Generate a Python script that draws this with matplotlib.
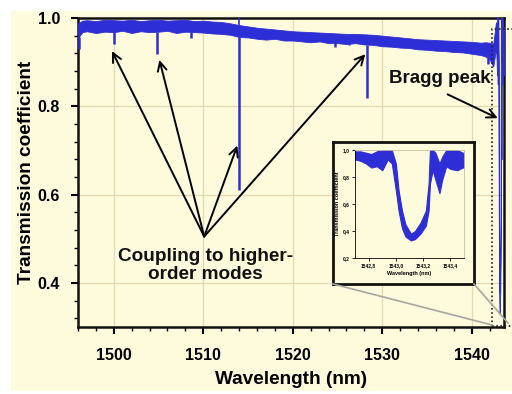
import numpy as np
import matplotlib
matplotlib.use('Agg')
import matplotlib.pyplot as plt
from matplotlib.patches import Rectangle
from matplotlib.lines import Line2D
from matplotlib.ticker import AutoMinorLocator, MultipleLocator, FuncFormatter

plt.rcParams['font.family'] = ['Liberation Sans', 'DejaVu Sans']

# ---- main spectrum: noise band envelope (nm, lower, upper) ----
band_wl = [1496.0, 1496.5, 1497.0, 1498.0, 1499.0, 1500.0, 1501.0, 1502.0, 1503.0, 1504.0,
           1505.0, 1506.0, 1507.0, 1508.0, 1509.0, 1510.0, 1511.0, 1512.0, 1513.0, 1514.0,
           1515.0, 1516.0, 1517.0, 1518.0, 1519.0, 1520.0, 1521.0, 1522.0, 1523.0, 1524.0,
           1525.0, 1526.0, 1527.0, 1528.0, 1529.0, 1530.0, 1531.0, 1532.0, 1533.0, 1534.0,
           1535.0, 1536.0, 1537.0, 1538.0, 1539.0, 1540.0, 1541.0, 1541.5, 1542.0, 1542.4]
band_lo = [0.955, 0.968, 0.970, 0.966, 0.969, 0.968, 0.971, 0.966, 0.970, 0.968,
           0.969, 0.971, 0.966, 0.969, 0.968, 0.967, 0.965, 0.964, 0.962, 0.957,
           0.956, 0.953, 0.951, 0.953, 0.949, 0.949, 0.947, 0.945, 0.947, 0.943,
           0.943, 0.941, 0.943, 0.940, 0.939, 0.936, 0.935, 0.933, 0.932, 0.929,
           0.928, 0.926, 0.925, 0.923, 0.922, 0.919, 0.916, 0.913, 0.906, 0.890]
band_hi = [0.988, 0.994, 0.995, 0.993, 0.996, 0.995, 0.994, 0.996, 0.993, 0.995,
           0.996, 0.994, 0.995, 0.996, 0.993, 0.994, 0.992, 0.991, 0.988, 0.984,
           0.981, 0.978, 0.976, 0.974, 0.972, 0.970, 0.969, 0.968, 0.967, 0.966,
           0.965, 0.964, 0.964, 0.963, 0.962, 0.960, 0.958, 0.956, 0.954, 0.952,
           0.951, 0.950, 0.949, 0.948, 0.947, 0.946, 0.944, 0.945, 0.944, 0.942]

# sharp absorption dips (coupling to higher-order modes etc.)
dip_wl = [1496.1, 1500.0, 1504.8, 1508.6, 1514.0, 1524.7, 1526.3, 1528.3, 1541.8]
dip_min = [0.930, 0.940, 0.918, 0.955, 0.610, 0.935, 0.938, 0.818, 0.895]
spike_wl = [1514.0, 1542.9]
spike_max = [1.0, 0.960]

# ---- Bragg peak (zoomed inset data) ----
bragg_wl = [1542.70, 1542.74, 1542.78, 1542.82, 1542.86, 1542.90, 1542.94, 1542.97,
            1543.00, 1543.02, 1543.045, 1543.07, 1543.11, 1543.14, 1543.18, 1543.22,
            1543.24, 1543.25, 1543.27, 1543.29, 1543.32, 1543.34, 1543.37, 1543.40,
            1543.45, 1543.49, 1543.60]
bragg_lo = [0.930, 0.920, 0.900, 0.870, 0.880, 0.850, 0.930, 0.900,
            0.700, 0.550, 0.420, 0.360, 0.330, 0.340, 0.380, 0.440,
            0.550, 0.750, 0.850, 0.780, 0.680, 0.780, 0.880, 0.860,
            0.850, 0.870, 0.870]
bragg_hi = [0.990, 0.990, 0.980, 0.970, 0.990, 1.000, 1.000, 1.000,
            0.900, 0.700, 0.550, 0.450, 0.380, 0.400, 0.460, 0.550,
            0.750, 1.000, 1.000, 0.980, 0.900, 0.950, 1.000, 1.000,
            1.000, 0.980, 0.980]

xticks_main = [1500, 1510, 1520, 1530, 1540]
yticks_main = [0.4, 0.6, 0.8, 1.0]
xticks_inset = [1542.8, 1543.0, 1543.2, 1543.4]
yticks_inset = [0.2, 0.4, 0.6, 0.8, 1.0]

CREAM = '#FEFADC'
BLUE = '#2E2ED6'
GRID = '#E3DAB2'

W, H = 512, 394
fig = plt.figure(figsize=(W / 100, H / 100), dpi=100, facecolor='white')
fig.add_artist(Rectangle((11 / W, 3 / H), 501 / W, 380 / H, transform=fig.transFigure,
                         facecolor=CREAM, edgecolor='none', zorder=-10))

ax = fig.add_axes([78 / W, (H - 327) / H, 426 / W, 309 / H])
ax.set_facecolor(CREAM)

wl_all = np.concatenate([band_wl, bragg_wl])
lo_all = np.concatenate([band_lo, bragg_lo])
hi_all = np.concatenate([band_hi, bragg_hi])
ax.fill_between(wl_all, lo_all, hi_all, color=BLUE, lw=0.6, edgecolor=BLUE, zorder=3)
base = np.interp(dip_wl, wl_all, lo_all)
ax.vlines(dip_wl, base, dip_min, color=BLUE, lw=1.8, zorder=3)
sbase = np.interp(spike_wl, wl_all, hi_all)
ax.vlines(spike_wl, sbase, spike_max, color=BLUE, lw=1.2, zorder=3)

ax.set_xlim(1496, 1543.6)
ax.set_ylim(0.3, 1.0)
ax.set_xticks(xticks_main)
ax.set_yticks(yticks_main)
ax.set_yticklabels([f'{v:.1f}' for v in yticks_main])
ax.xaxis.set_minor_locator(MultipleLocator(2))
ax.yaxis.set_minor_locator(AutoMinorLocator(5))
ax.grid(True, which='major', color=GRID, lw=0.9, zorder=0)
ax.set_axisbelow(True)
for s in ax.spines.values():
    s.set_linewidth(1.8)
    s.set_color('#111111')
ax.tick_params(which='major', direction='out', length=5, width=1.5, pad=8,
               labelsize=11.5)
ax.tick_params(axis='x', which='major', pad=10)
ax.tick_params(which='minor', direction='out', length=3, width=1.0)
for lab in ax.get_xticklabels() + ax.get_yticklabels():
    lab.set_fontweight('bold')
ax.set_xlabel('Wavelength (nm)', fontsize=13.7, fontweight='bold', labelpad=6)
ax.set_ylabel('Transmission coefficient', fontsize=13.7, fontweight='bold', labelpad=2)

# annotations
src = (1510.1, 0.505)
targets = [(1499.8, 0.925), (1505.1, 0.905), (1513.8, 0.711), (1528.1, 0.918)]
for t in targets:
    ax.annotate('', xy=t, xytext=src,
                arrowprops=dict(arrowstyle='->', lw=1.4, color='black',
                                mutation_scale=16, shrinkA=0, shrinkB=0), zorder=5)
ax.text(1510.2, 0.44, 'Coupling to higher-\norder modes', ha='center', va='center',
        fontsize=13.7, fontweight='bold', linespacing=1.05, color='#111111', zorder=5)
ax.text(1536.4, 0.864, 'Bragg peak', ha='center', va='center', fontsize=13.5,
        fontweight='bold', color='#111111', zorder=5)
ax.annotate('', xy=(1542.9, 0.773), xytext=(1537.3, 0.827),
            arrowprops=dict(arrowstyle='->', lw=1.4, color='black',
                            mutation_scale=16, shrinkA=0, shrinkB=0), zorder=5)

# dotted zoom box
ax.add_patch(Rectangle((1542.25, 0.302), 2.6, 0.673, fill=False, ls=(0, (1, 1.5)),
                       lw=1.2, edgecolor='#222222', clip_on=False, zorder=4))

# connection lines (figure pixel positions of inset corners -> zoom box corners)
for (x0, y0), (x1, y1) in [((333, 284), (492, 325)), ((474, 284), (508, 323))]:
    fig.add_artist(Line2D([x0 / W, x1 / W], [(H - y0) / H, (H - y1) / H],
                          transform=fig.transFigure, color='#A8A8A0', lw=1.2, zorder=1))

# inset frame
box = fig.add_axes([333 / W, (H - 284) / H, 141 / W, 142 / H])
box.set_facecolor(CREAM)
box.set_xticks([])
box.set_yticks([])
for s in box.spines.values():
    s.set_linewidth(2.0)
    s.set_color('#111111')

axi = fig.add_axes([355 / W, (H - 258) / H, 109 / W, 108 / H])
axi.set_facecolor(CREAM)
axi.fill_between(bragg_wl, bragg_lo, bragg_hi, color=BLUE, lw=0.8, edgecolor=BLUE)
axi.set_xlim(1542.7, 1543.5)
axi.set_ylim(0.2, 1.0)
axi.set_xticks(xticks_inset)
axi.set_yticks(yticks_inset)
comma = FuncFormatter(lambda v, p: f'{v:.1f}'.replace('.', ','))
axi.xaxis.set_major_formatter(comma)
axi.yaxis.set_major_formatter(comma)
axi.tick_params(labelsize=3.5, length=2, width=0.6, pad=2)
for lab in axi.get_xticklabels() + axi.get_yticklabels():
    lab.set_fontweight('bold')
for side in ['top', 'right']:
    axi.spines[side].set_color('#C8C0A0')
for s in axi.spines.values():
    s.set_linewidth(0.6)
axi.set_xlabel('Wavelength (nm)', fontsize=4, fontweight='bold', labelpad=2)
axi.set_ylabel('Transmission coefficient', fontsize=4, fontweight='bold', labelpad=2)

fig.savefig('out.png', dpi=100, facecolor='white')
